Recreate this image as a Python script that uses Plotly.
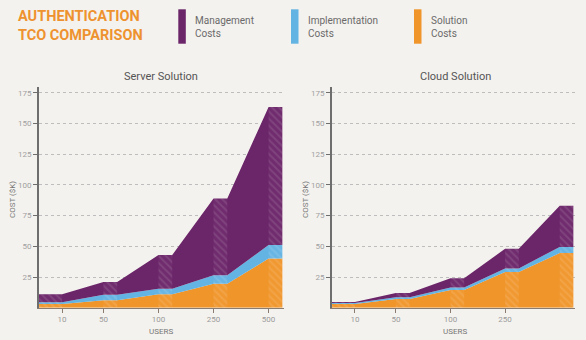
import plotly.graph_objects as go

# ---------------- data ----------------
users = ["10", "50", "100", "250", "500"]

server_solution = [3, 6, 11, 19.5, 40]
server_implementation = [1.5, 4.5, 4.5, 7, 11]
server_management = [6.5, 10.5, 27.5, 62.5, 112.5]

cloud_solution = [3, 7, 14.5, 29, 44.5]
cloud_implementation = [0.8, 1.5, 2, 3, 5]
cloud_management = [0.8, 3.5, 7.5, 16, 33.5]

y_ticks = [25, 50, 75, 100, 125, 150, 175]

# ---------------- style / layout constants ----------------
TICK_POS = [0.42, 1.17, 2.17, 3.17, 4.17]
PLATEAU = 0.25
X_END = 4.45
BG = "#f4f2ee"
PURPLE = "#6b2569"
BLUE = "#63b3e3"
ORANGE = "#f0952a"
FONT = "Roboto"

def plateau_span(i):
    if i == 0:
        return 0, TICK_POS[0]
    return TICK_POS[i], TICK_POS[i] + PLATEAU

def step_xy(values):
    xs, ys = [], []
    for i, v in enumerate(values):
        a, b = plateau_span(i)
        xs += [a, b]
        ys += [v, v]
    return xs, ys

fig = go.Figure()

def add_panel(sol, imp, mgmt, xa, ya):
    for vals, col in ((sol, ORANGE), (imp, BLUE), (mgmt, PURPLE)):
        xs, ys = step_xy(vals)
        fig.add_trace(go.Scatter(x=xs, y=ys, mode="lines", line=dict(width=0),
                                 fillcolor=col, stackgroup="s" + xa, xaxis=xa, yaxis=ya,
                                 hoverinfo="skip", showlegend=False))
    totals = [a + b + c for a, b, c in zip(sol, imp, mgmt)]
    for i, t in enumerate(totals):
        a, b = plateau_span(i)
        fig.add_trace(go.Scatter(x=[a, b, b, a, a], y=[0, 0, t, t, 0], mode="lines",
                                 line=dict(width=0), fill="toself",
                                 fillcolor="rgba(255,255,255,0.03)",
                                 fillpattern=dict(shape="\\", fgcolor="rgba(255,255,255,0.22)",
                                                  size=5, solidity=0.4, fillmode="overlay"),
                                 xaxis=xa, yaxis=ya, hoverinfo="skip", showlegend=False))

add_panel(server_solution, server_implementation, server_management, "x", "y")
add_panel(cloud_solution, cloud_implementation, cloud_management, "x2", "y2")

ydom = [1 - 307.7 / 340, 1 - 86.7 / 340]
xdom1 = [39 / 586, 284 / 586]
xdom2 = [332 / 586, 575 / 586]

def xaxis_cfg(dom, labels, anchor):
    return dict(domain=dom, range=[0, X_END], anchor=anchor, showline=True,
                linecolor="#8a7c70", linewidth=1, ticks="outside", ticklen=4,
                tickcolor="#8a7c70", tickvals=TICK_POS[:len(labels)], ticktext=labels,
                showgrid=False, zeroline=False,
                tickfont=dict(family=FONT, size=8, color="#9a9a9a"), fixedrange=True)

def yaxis_cfg(anchor):
    return dict(domain=ydom, range=[0, 180], anchor=anchor, showline=True,
                linecolor="#6e6e6e", linewidth=2, ticks="outside", ticklen=4,
                tickcolor="#6e6e6e", tickvals=y_ticks, showgrid=True,
                gridcolor="#bdbdbd", griddash="3px,3px", gridwidth=1, zeroline=False,
                tickfont=dict(family=FONT, size=8, color="#a0a0a0"), fixedrange=True)

fig.update_layout(
    width=586, height=340, margin=dict(l=0, r=0, t=0, b=0),
    paper_bgcolor=BG, plot_bgcolor=BG, showlegend=False,
    font=dict(family=FONT),
    xaxis=xaxis_cfg(xdom1, users, "y"),
    yaxis=yaxis_cfg("x"),
    xaxis2=xaxis_cfg(xdom2, users[:4], "y2"),
    yaxis2=yaxis_cfg("x2"),
)

def px_x(p):
    return p / 586

def px_y(p):
    return 1 - p / 340

ann = []
# header
ann.append(dict(text="<b>AUTHENTICATION<br>TCO COMPARISON</b>", x=px_x(16), y=px_y(26.5),
                xanchor="left", yanchor="middle", align="left",
                font=dict(family=FONT, size=14.5, color="#ee9230")))
# legend
legend_items = [("Management", "Costs", PURPLE, 178.3, 193),
                ("Implementation", "Costs", BLUE, 291, 306),
                ("Solution", "Costs", ORANGE, 414, 429)]
shapes = []
for l1, l2, col, sx, tx in legend_items:
    shapes.append(dict(type="rect", xref="paper", yref="paper", x0=px_x(sx), x1=px_x(sx + 7.5),
                       y0=px_y(43.7), y1=px_y(9.3), fillcolor=col, line=dict(width=0)))
    ann.append(dict(text=l1 + "<br>" + l2, x=px_x(tx), y=px_y(27), xanchor="left", yanchor="middle",
                    align="left", font=dict(family=FONT, size=10, color="#6a6a6a")))
# panel titles
ann.append(dict(text="Server Solution", x=px_x(161), y=px_y(76), xanchor="center", yanchor="middle",
                font=dict(family=FONT, size=11, color="#555555")))
ann.append(dict(text="Cloud Solution", x=px_x(455), y=px_y(76), xanchor="center", yanchor="middle",
                font=dict(family=FONT, size=11, color="#555555")))
# axis titles
for cx in (161, 455):
    ann.append(dict(text="USERS", x=px_x(cx), y=px_y(331), xanchor="center", yanchor="middle",
                    font=dict(family=FONT, size=8, color="#777777")))
for cx in (12, 305):
    ann.append(dict(text="COST ($K)", x=px_x(cx), y=px_y(200), xanchor="center", yanchor="middle",
                    textangle=-90, font=dict(family=FONT, size=8, color="#777777")))

for a in ann:
    a.update(xref="paper", yref="paper", showarrow=False)

fig.update_layout(annotations=ann, shapes=shapes)

fig.write_html("out.html")
